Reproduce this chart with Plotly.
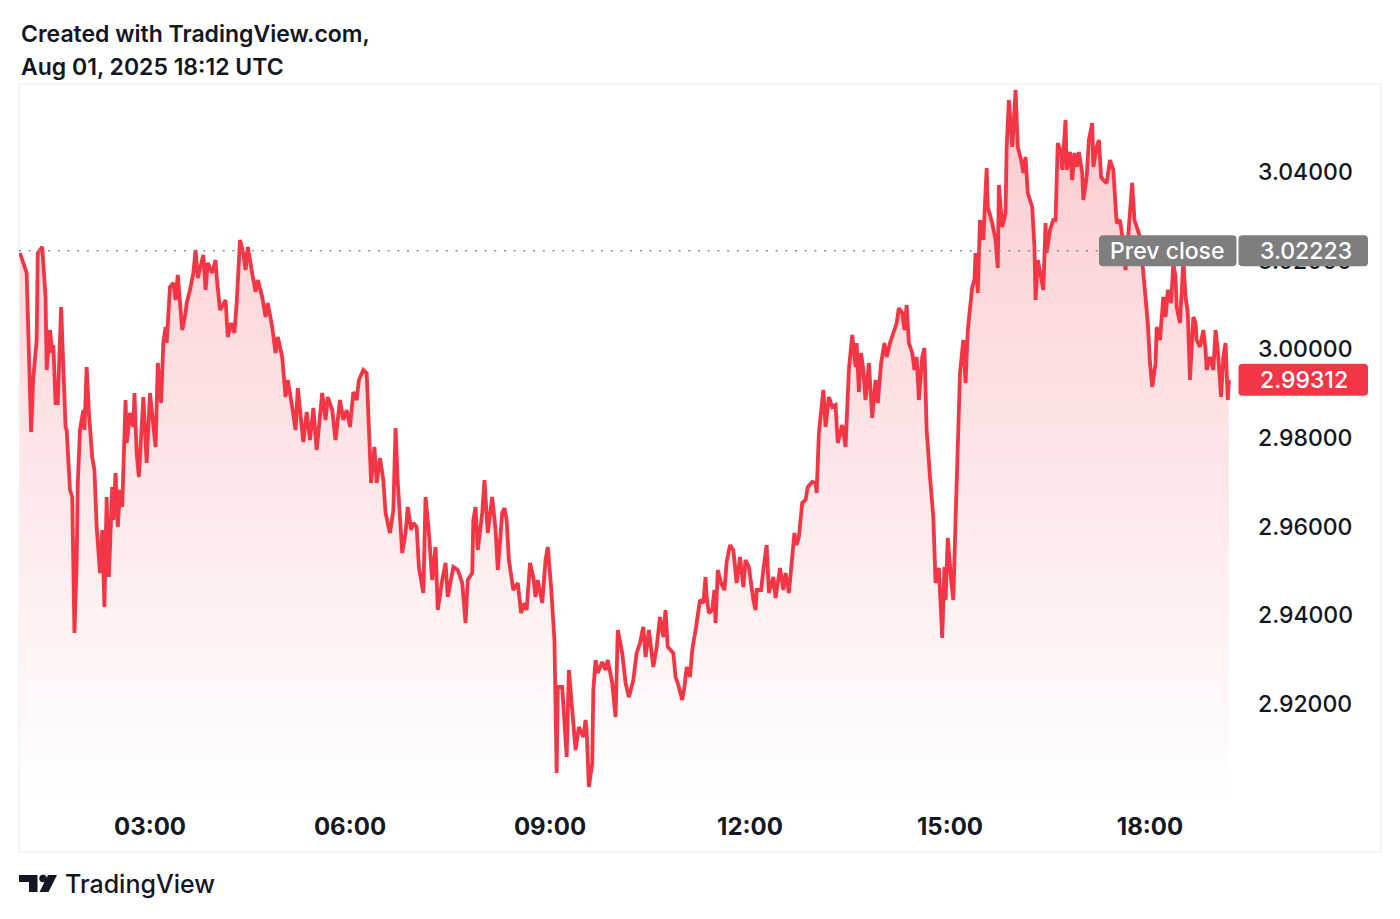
import pandas as pd
import plotly.graph_objects as go

# ---------------- data ----------------
minute_of_day = [
    63, 66, 69, 73, 75, 78, 79, 83, 86, 87, 90, 92, 93, 95, 97, 100, 102, 104, 105, 108,
    110, 112, 114, 115, 117, 120, 121, 123, 125, 128, 130, 132, 135, 137, 139, 141, 143, 146, 147, 149,
    151, 153, 155, 158, 159, 162, 165, 166, 168, 170, 174, 177, 180, 185, 187, 190, 192, 194, 195, 198,
    201, 203, 205, 209, 212, 213, 216, 219, 221, 223, 228, 230, 232, 236, 239, 240, 243, 248, 250, 253,
    256, 258, 261, 264, 266, 268, 271, 273, 275, 277, 281, 284, 286, 290, 293, 295, 299, 302, 304, 308,
    311, 313, 318, 321, 324, 327, 330, 335, 338, 340, 344, 347, 351, 354, 357, 360, 363, 366, 368, 372,
    375, 376, 379, 382, 384, 387, 390, 392, 396, 399, 401, 403, 407, 410, 412, 415, 417, 420, 422, 426,
    428, 431, 434, 437, 439, 443, 446, 448, 453, 457, 461, 464, 466, 470, 471, 473, 475, 479, 481, 484,
    488, 491, 493, 497, 499, 501, 503, 507, 511, 514, 517, 519, 522, 525, 527, 529, 533, 536, 538, 541,
    544, 546, 547, 551, 554, 555, 557, 561, 563, 566, 570, 572, 573, 575, 578, 579, 581, 583, 587, 590,
    592, 596, 599, 601, 605, 608, 611, 615, 618, 621, 624, 626, 629, 633, 636, 639, 642, 644, 646, 651,
    653, 655, 659, 661, 663, 666, 668, 671, 672, 675, 678, 680, 681, 683, 686, 688, 689, 691, 694, 697,
    699, 702, 705, 708, 711, 714, 716, 719, 723, 725, 726, 730, 732, 735, 737, 741, 743, 745, 747, 750,
    752, 755, 758, 760, 762, 764, 767, 770, 772, 776, 779, 780, 782, 786, 788, 791, 794, 797, 799, 803,
    806, 809, 812, 815, 816, 818, 820, 822, 824, 827, 830, 833, 835, 838, 841, 843, 846, 850, 852, 854,
    857, 859, 861, 863, 866, 868, 870, 872, 875, 877, 879, 882, 885, 887, 890, 893, 895, 896, 898, 901,
    903, 905, 907, 909, 912, 914, 916, 920, 922, 923, 925, 927, 930, 931, 933, 934, 938, 941, 943, 944,
    947, 950, 951, 953, 956, 957, 959, 961, 964, 966, 968, 970, 974, 976, 977, 979, 982, 984, 986, 987,
    990, 993, 995, 997, 1000, 1001, 1004, 1005, 1008, 1010, 1012, 1014, 1016, 1019, 1020, 1023, 1025, 1028, 1029, 1032,
    1034, 1036, 1038, 1041, 1044, 1047, 1050, 1053, 1056, 1058, 1061, 1064, 1066, 1068, 1071, 1074, 1076, 1078, 1080, 1082,
    1085, 1086, 1089, 1092, 1094, 1096, 1099, 1101, 1103, 1104, 1107, 1110, 1112, 1114, 1116, 1119, 1121, 1122, 1125, 1128,
    1130, 1131, 1134, 1137, 1139, 1141, 1144, 1146, 1148, 1150, 1151,
]

price = [
    3.02172, 3.01947, 3.01721, 2.98134, 2.99375, 3.00210, 3.02172, 3.02308, 3.01180, 2.99533,
    3.00435, 2.99916, 3.00097, 2.98788, 2.98788, 3.00954, 2.99307, 2.98247, 2.98179, 2.96826,
    2.96668, 2.93600, 2.95179, 2.96984, 2.98179, 2.98630, 2.98179, 2.99600, 2.98563, 2.97570,
    2.97277, 2.95991, 2.94953, 2.95923, 2.94186, 2.96668, 2.94863, 2.96893, 2.96149, 2.97209,
    2.95991, 2.96826, 2.96442, 2.98856, 2.97886, 2.98563, 2.98247, 2.99014, 2.97660, 2.97119,
    2.98924, 2.97435, 2.99014, 2.97796, 2.99691, 2.98788, 3.00142, 3.00503, 3.00142, 3.01405,
    3.01496, 3.01112, 3.01676, 3.00435, 3.00819, 3.01044, 3.01338, 3.01721, 3.02240, 3.01608,
    3.02127, 3.01338, 3.01947, 3.01721, 3.02014, 3.01631, 3.00886, 3.01112, 3.00277, 3.00593,
    3.00368, 3.01044, 3.02466, 3.02172, 3.01789, 3.02308, 3.01856, 3.01563, 3.01292, 3.01563,
    3.01180, 3.00728, 3.01044, 3.00503, 2.99916, 3.00277, 2.99826, 2.98924, 2.99307, 2.98698,
    2.98179, 2.99127, 2.97908, 2.98585, 2.97954, 2.98676, 2.97728, 2.99014, 2.98405, 2.98924,
    2.98630, 2.97954, 2.98856, 2.98405, 2.98630, 2.98247, 2.99036, 2.98856, 2.99307, 2.99533,
    2.99465, 2.98856, 2.96984, 2.97796, 2.96984, 2.97548, 2.97051, 2.96307, 2.95856, 2.96374,
    2.98224, 2.96984, 2.95404, 2.95856, 2.96442, 2.95923, 2.96081, 2.95991, 2.95088, 2.94502,
    2.96668, 2.95856, 2.94795, 2.95540, 2.94118, 2.94795, 2.95179, 2.94412, 2.95088, 2.95021,
    2.94728, 2.93825, 2.94795, 2.94953, 2.96149, 2.96442, 2.95472, 2.96307, 2.97051, 2.95856,
    2.96668, 2.95923, 2.95021, 2.96307, 2.96420, 2.96149, 2.95246, 2.94570, 2.94728, 2.94051,
    2.94276, 2.94118, 2.95179, 2.94863, 2.94412, 2.94795, 2.94276, 2.95246, 2.95540, 2.94637,
    2.93442, 2.90441, 2.92381, 2.92381, 2.91028, 2.90802, 2.92765, 2.91637, 2.90960, 2.91479,
    2.91253, 2.91637, 2.91411, 2.90125, 2.90667, 2.92314, 2.92990, 2.92697, 2.92945, 2.92765,
    2.92990, 2.92472, 2.91704, 2.93667, 2.93148, 2.92472, 2.92156, 2.92539, 2.93148, 2.93374,
    2.93735, 2.93058, 2.93667, 2.92832, 2.93284, 2.93960, 2.93509, 2.94118, 2.93284, 2.93148,
    2.92607, 2.92472, 2.92088, 2.92381, 2.92832, 2.92607, 2.93216, 2.93667, 2.93825, 2.94344,
    2.94276, 2.94863, 2.94412, 2.94051, 2.94118, 2.94570, 2.93825, 2.95021, 2.94728, 2.94570,
    2.95201, 2.95585, 2.95472, 2.94728, 2.95314, 2.94637, 2.95246, 2.95088, 2.94344, 2.94118,
    2.94570, 2.94570, 2.95021, 2.95585, 2.94502, 2.94863, 2.94389, 2.94728, 2.95066, 2.94570,
    2.94953, 2.94502, 2.95404, 2.95856, 2.95585, 2.95765, 2.96532, 2.96600, 2.96893, 2.97006,
    2.96984, 2.96758, 2.98112, 2.99082, 2.98247, 2.98924, 2.98698, 2.98743, 2.97886, 2.98292,
    2.97796, 2.99533, 3.00322, 2.99600, 3.00142, 2.99036, 2.99916, 2.99533, 2.98856, 2.99691,
    2.98450, 2.99307, 2.98788, 2.99691, 3.00142, 2.99826, 3.00142, 3.00435, 3.00593, 3.00932,
    3.00819, 3.00435, 3.00999, 3.00142, 2.99916, 2.99533, 2.99826, 2.98856, 2.99826, 3.00029,
    2.98179, 2.97119, 2.96216, 2.94728, 2.95066, 2.93487, 2.95088, 2.94344, 2.95743, 2.94795,
    2.94344, 2.96149, 2.98247, 2.99465, 3.00210, 2.99240, 3.00435, 3.01405, 3.01563, 3.02172,
    3.01270, 3.02917, 3.02466, 3.03075, 3.04090, 3.03210, 3.02849, 3.02466, 3.01834, 3.03706,
    3.02759, 3.03075, 3.04564, 3.05624, 3.04564, 3.04947, 3.05850, 3.04564, 3.04270, 3.03977,
    3.04338, 3.03526, 3.03210, 3.02308, 3.01112, 3.02014, 3.01631, 3.01338, 3.02849, 3.02172,
    3.02691, 3.02917, 3.02917, 3.04654, 3.04428, 3.04045, 3.05173, 3.04045, 3.04451, 3.03819,
    3.04428, 3.04112, 3.04451, 3.03977, 3.03368, 3.03887, 3.04722, 3.05105, 3.04112, 3.04564,
    3.04722, 3.03887, 3.03819, 3.03752, 3.04270, 3.04045, 3.02849, 3.02917, 3.02398, 3.01789,
    3.02759, 3.03752, 3.02917, 3.02759, 3.02533, 3.01721, 3.01112, 3.00593, 2.99691, 2.99149,
    2.99691, 3.00503, 3.00210, 3.01180, 3.00728, 3.01338, 3.01044, 3.01947, 3.01631, 3.00954,
    3.00593, 3.02014, 3.01180, 3.00819, 2.99307, 3.00728, 3.00593, 3.00210, 3.00052, 3.00435,
    2.99984, 2.99533, 2.99826, 2.99533, 3.00435, 2.99984, 2.98924, 2.99826, 3.00142, 2.98856,
    2.99312,
]

prev_close = 3.02223
last_price = price[-1]

time_tick_hours = [3, 6, 9, 12, 15, 18]
time_tick_labels = ["03:00", "06:00", "09:00", "12:00", "15:00", "18:00"]
price_ticks = [2.92, 2.94, 2.96, 2.98, 3.00, 3.02, 3.04]

title_line1 = "Created with TradingView.com,"
title_line2 = "Aug 01, 2025 18:12 UTC"

assert len(minute_of_day) == len(price)

# ---------------- layout geometry ----------------
W, H = 1400, 919
L, R, T, B = 19, 160, 84, 119
PW, PH = W - L - R, H - T - B
day = pd.Timestamp("2025-08-01")
times = day + pd.to_timedelta(minute_of_day, unit="m")
x_range = [day + pd.Timedelta(minutes=62.1), day + pd.Timedelta(minutes=1161)]
y_min, y_max = 2.89832, 3.05985

RED = "#F23645"
INK = "#131722"
FONT = "Inter"


def px(xp):
    return (xp - L) / PW


def py(yp):
    return (H - B - yp) / PH


def val_to_ypx(v):
    return (H - B) - (v - y_min) / (y_max - y_min) * PH


def rounded_rect(x0, y0, x1, y1, r=4):
    X0, X1 = px(x0), px(x1)
    Y0, Y1 = py(y1), py(y0)  # bottom, top
    rx, ry = r / PW, r / PH
    return (f"M{X0+rx},{Y1} L{X1-rx},{Y1} Q{X1},{Y1} {X1},{Y1-ry} "
            f"L{X1},{Y0+ry} Q{X1},{Y0} {X1-rx},{Y0} L{X0+rx},{Y0} "
            f"Q{X0},{Y0} {X0},{Y0+ry} L{X0},{Y1-ry} Q{X0},{Y1} {X0+rx},{Y1} Z")


fig = go.Figure()
fig.add_trace(go.Scatter(
    x=times, y=price, mode="lines",
    line=dict(color=RED, width=3.8),
    fill="tozeroy",
    fillgradient=dict(
        type="vertical",
        colorscale=[[0, "rgba(242,54,69,0.0)"], [1, "rgba(242,54,69,0.26)"]],
        start=y_min, stop=3.058,
    ),
    hoverinfo="skip", showlegend=False,
))

shapes = []
shapes.append(dict(type="rect", xref="paper", yref="paper",
                   x0=px(19), x1=px(1381), y0=py(852), y1=py(84),
                   line=dict(color="#ECECEC", width=1), fillcolor="rgba(0,0,0,0)", layer="below"))
shapes.append(dict(type="line", xref="paper", yref="y",
                   x0=0, x1=px(1100), y0=prev_close, y1=prev_close,
                   line=dict(color="#8A8D96", width=1.6, dash="2px,7.7px"), layer="above"))

pc_y = val_to_ypx(prev_close)
lp_y = val_to_ypx(last_price)
GRAY = "#7E7E7E"
shapes.append(dict(type="path", xref="paper", yref="paper", path=rounded_rect(1099, pc_y - 15.5, 1236.5, pc_y + 15.5),
                   fillcolor=GRAY, line=dict(width=0), layer="above"))
shapes.append(dict(type="path", xref="paper", yref="paper", path=rounded_rect(1238.5, pc_y - 15.5, 1368, pc_y + 15.5),
                   fillcolor=GRAY, line=dict(width=0), layer="above"))
shapes.append(dict(type="path", xref="paper", yref="paper", path=rounded_rect(1238.5, lp_y - 16, 1368, lp_y + 16),
                   fillcolor=RED, line=dict(width=0), layer="above"))

# TradingView logo
shapes.append(dict(type="path", xref="paper", yref="paper",
                   path=f"M{px(19)},{py(875)} L{px(37.5)},{py(875)} L{px(37.5)},{py(892)} L{px(29)},{py(892)} "
                        f"L{px(29)},{py(882)} L{px(19)},{py(882)} Z",
                   fillcolor=INK, line=dict(width=0), layer="above"))
shapes.append(dict(type="circle", xref="paper", yref="paper",
                   x0=px(39.3), x1=px(46.7), y0=py(882.2), y1=py(874.8),
                   fillcolor=INK, line=dict(width=0), layer="above"))
shapes.append(dict(type="path", xref="paper", yref="paper",
                   path=f"M{px(48)},{py(875)} L{px(57)},{py(875)} L{px(48.5)},{py(892)} L{px(39.5)},{py(892)} Z",
                   fillcolor=INK, line=dict(width=0), layer="above"))

annotations = [
    dict(text=title_line1, x=px(19), y=py(34), xref="paper", yref="paper", xanchor="left", yanchor="middle",
         showarrow=False, font=dict(family=FONT, size=23, color=INK, weight=600)),
    dict(text=title_line2, x=px(19), y=py(67), xref="paper", yref="paper", xanchor="left", yanchor="middle",
         showarrow=False, font=dict(family=FONT, size=23, color=INK, weight=600)),
    dict(text="TradingView", x=px(63), y=py(884), xref="paper", yref="paper", xanchor="left", yanchor="middle",
         showarrow=False, font=dict(family=FONT, size=25, color=INK, weight=500)),
    dict(text="Prev close", x=px(1167), y=py(pc_y), xref="paper", yref="paper", xanchor="center", yanchor="middle",
         showarrow=False, font=dict(family=FONT, size=23, color="white", weight=500)),
    dict(text=f"{prev_close:.5f}", x=px(1306), y=py(pc_y), xref="paper", yref="paper", xanchor="center",
         yanchor="middle", showarrow=False, font=dict(family=FONT, size=23, color="white", weight=500)),
    dict(text=f"{last_price:.5f}", x=px(1304), y=py(lp_y), xref="paper", yref="paper", xanchor="center",
         yanchor="middle", showarrow=False, font=dict(family=FONT, size=23, color="white", weight=500)),
]

fig.update_layout(
    width=W, height=H,
    margin=dict(l=L, r=R, t=T, b=B, pad=0),
    paper_bgcolor="white", plot_bgcolor="white",
    showlegend=False,
    hovermode=False,
    shapes=shapes,
    annotations=annotations,
    xaxis=dict(
        type="date", range=x_range,
        tickvals=[day + pd.Timedelta(hours=h) for h in time_tick_hours],
        ticktext=time_tick_labels,
        tickfont=dict(family=FONT, size=24, color=INK, weight=700),
        showgrid=False, zeroline=False, showline=False, ticks="",
        ticklabelstandoff=10,
    ),
    yaxis=dict(
        side="right", range=[y_min, y_max],
        tickvals=price_ticks, tickformat=".5f",
        tickfont=dict(family=FONT, size=23, color=INK, weight=500),
        showgrid=False, zeroline=False, showline=False, ticks="",
        ticklabelstandoff=17,
    ),
)

fig.write_html("out.html", config={"displayModeBar": False},
               post_script="document.body.style.margin='0';document.body.style.padding='0';")
